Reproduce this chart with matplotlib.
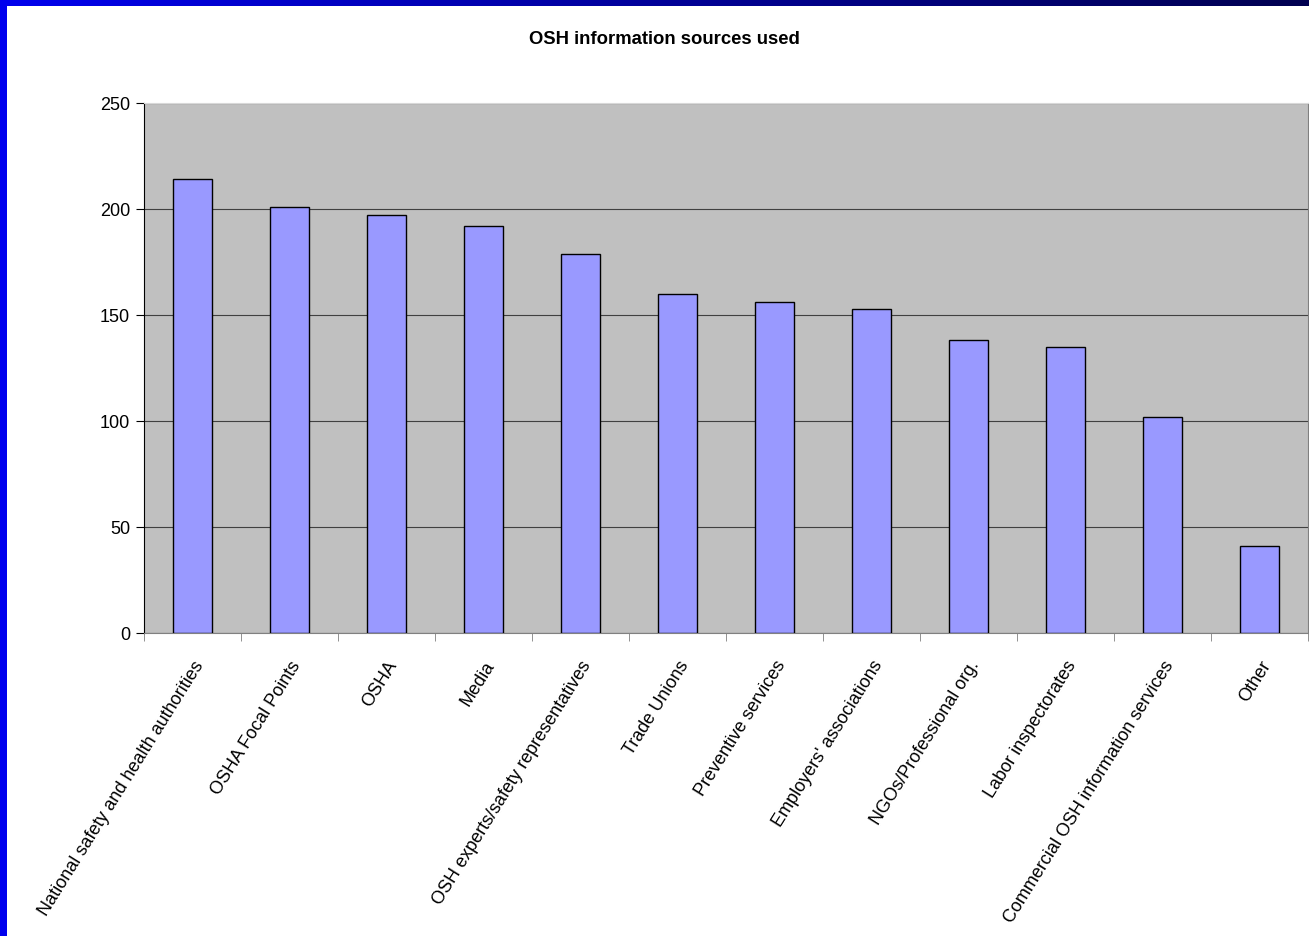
import numpy as np
import matplotlib.pyplot as plt
from matplotlib.patches import Rectangle
from matplotlib.colors import LinearSegmentedColormap

categories = ["National safety and health authorities", "OSHA Focal Points", "OSHA", "Media",
              "OSH experts/safety representatives", "Trade Unions", "Preventive services",
              "Employers' associations", "NGOs/Professional org.", "Labor inspectorates",
              "Commercial OSH information services", "Other"]
values = [214, 201, 197, 192, 179, 160, 156, 153, 138, 135, 102, 41]
yticks = [0, 50, 100, 150, 200, 250]

plt.rcParams['font.family'] = ['Liberation Sans', 'DejaVu Sans']

fig = plt.figure(figsize=(13.09, 9.36), dpi=100)
fig.patch.set_facecolor('white')

# blue frame of the slide
fig.patches.append(Rectangle((0, 0), 7 / 1309, 1, transform=fig.transFigure,
                             facecolor='#0000ee', edgecolor='none', zorder=5))
grad = np.linspace(0, 1, 256).reshape(1, -1)
bar_ax = fig.add_axes([0, 1 - 6 / 936, 1, 6 / 936])
cmap = LinearSegmentedColormap.from_list('frame', ['#0000ee', '#000099', '#000050'])
bar_ax.imshow(grad, aspect='auto', cmap=cmap)
bar_ax.axis('off')

ax = fig.add_axes([144 / 1309, 1 - 633 / 936, (1308 - 144) / 1309, (633 - 103) / 936])
ax.set_facecolor('#c0c0c0')
x = np.arange(len(categories))
ax.bar(x, values, width=0.41, color='#9999ff', edgecolor='black', linewidth=1, zorder=3)
ax.set_xlim(-0.5, len(categories) - 0.5)
ax.set_ylim(0, 250)
ax.set_yticks(yticks)
ax.yaxis.grid(True, color='#404040', linewidth=0.8, zorder=1)
ax.set_axisbelow(True)
ax.tick_params(axis='y', labelsize=13, length=6, direction='out', color='black', pad=4)
ax.set_xticks(np.arange(len(categories) + 1) - 0.5, minor=True)
ax.set_xticks(x)
ax.set_xticklabels(categories, rotation=58, ha='right', va='top', rotation_mode='anchor', fontsize=13)
ax.tick_params(axis='x', which='major', length=0, pad=18)
ax.tick_params(axis='x', which='minor', length=6, color='#808080')
ax.spines['left'].set_color('black')
ax.spines['top'].set_color('#d8d8d8')
ax.spines['right'].set_color('#808080')
ax.spines['bottom'].set_color('#808080')

fig.text(664 / 1309, 1 - 40 / 936, "OSH information sources used", ha='center', va='center',
         fontsize=13.3, fontweight='bold')

fig.savefig('out.png', dpi=100)
